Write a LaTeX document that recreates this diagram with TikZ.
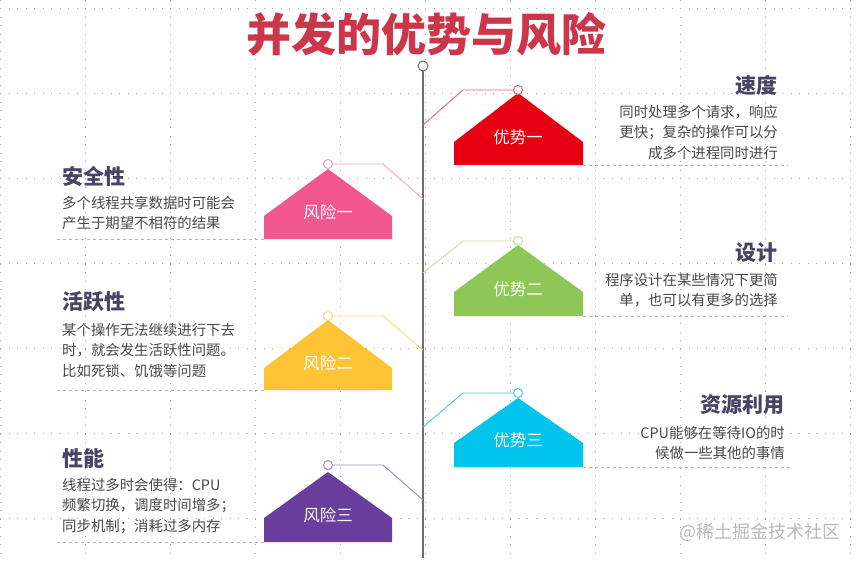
\documentclass[tikz,border=0pt]{standalone}
\usepackage{fontspec}
\setmainfont{Noto Sans CJK SC}
\usetikzlibrary{positioning}
\definecolor{titlered}{RGB}{204,54,75}
\definecolor{axisgray}{RGB}{110,110,110}
\definecolor{headgray}{RGB}{72,68,102}
\definecolor{bodygray}{RGB}{72,72,72}
\definecolor{advred}{RGB}{230,0,18}
\definecolor{advredline}{RGB}{232,100,122}
\definecolor{riskpink}{RGB}{242,86,142}
\definecolor{riskpinkline}{RGB}{245,160,190}
\definecolor{advgreen}{RGB}{143,198,88}
\definecolor{advgreenline}{RGB}{198,224,160}
\definecolor{riskyellow}{RGB}{255,196,54}
\definecolor{riskyellowline}{RGB}{255,217,122}
\definecolor{advcyan}{RGB}{0,196,236}
\definecolor{advcyanline}{RGB}{80,200,232}
\definecolor{riskpurple}{RGB}{106,62,156}
\definecolor{riskpurpleline}{RGB}{158,140,190}
\tikzset{
    gridline/.style={gray!70, line width=0.6pt, dash pattern=on 0.8pt off 7.7pt},
    axis/.style={draw=axisgray, line width=1.3pt},
    pin/.style={circle, draw, fill=white, line width=1pt, minimum size=9pt, inner sep=0pt},
    link/.style={line width=0.9pt},
    tag/.style={text=white, inner sep=0pt, font=\fontsize{16.5}{18}\selectfont},
    heading/.style={text=headgray, inner sep=0pt, font=\bfseries\fontsize{21}{24}\selectfont},
    body/.style={text=bodygray, inner sep=0pt, font=\fontsize{14.4}{20.5}\selectfont},
    guide/.style={draw=gray!60, dashed, line width=0.6pt},
    headline/.style={text=titlered, inner sep=0pt, font=\bfseries\fontsize{45}{50}\selectfont},
    watermark/.style={text=gray!55, inner sep=0pt, font=\fontsize{18}{20}\selectfont}
}
\begin{document}
\begin{tikzpicture}[x=1pt, y=-1pt]
        \useasboundingbox (0,0) rectangle (858,561);

        % Background grid
        \foreach \gx in {0,85,...,850} \draw[gridline] (\gx,0) -- (\gx,561);
        \foreach \gy in {8,93,...,518} \draw[gridline] (0,\gy) -- (858,\gy);

        % Title
        \node (title) [headline] at (426,34) {并发的优势与风险};

        % Time axis
        \node (axis_top) [pin, draw=axisgray, minimum size=10pt] at (423,66) {};
        \coordinate (axis_end) at (423,558);
        \draw[axis] (axis_top.south) -- (axis_end);

        % Advantage 1
        \fill[advred] (454,165) -- (454,142) -- (518,93) -- (583,142) -- (583,165) -- cycle;
        \node (tag_adv1) [tag] at (518,137) {优势一};
        \node (pin_adv1) [pin, draw=advredline] at (518,90) {};
        \coordinate (knee_adv1) at (463,90);
        \coordinate (join_adv1) at (423,125);
        \draw[link, advredline] (pin_adv1.west) -- (knee_adv1) -- (join_adv1);
        \node (head_adv1) [heading, anchor=east] at (778,85) {速度};
        \node (text_adv1) [body, align=right, anchor=north east] at (778,105) {同时处理多个请求，响应\\更快；复杂的操作可以分\\成多个进程同时进行};
        \draw[guide] (583,165) -- (788,165);

        % Risk 1
        \fill[riskpink] (264,239) -- (264,216) -- (328,169) -- (392,216) -- (392,239) -- cycle;
        \node (tag_risk1) [tag] at (328,212) {风险一};
        \node (pin_risk1) [pin, draw=riskpinkline] at (328,164) {};
        \coordinate (knee_risk1) at (383,164);
        \coordinate (join_risk1) at (423,199);
        \draw[link, riskpinkline] (pin_risk1.east) -- (knee_risk1) -- (join_risk1);
        \node (head_risk1) [heading, anchor=west] at (62,177) {安全性};
        \node (text_risk1) [body, align=left, anchor=north west] at (62,196) {多个线程共享数据时可能会\\产生于期望不相符的结果};
        \draw[guide] (57,239) -- (264,239);

        % Advantage 2
        \fill[advgreen] (454,316) -- (454,292) -- (518,245) -- (583,292) -- (583,316) -- cycle;
        \node (tag_adv2) [tag] at (518,289) {优势二};
        \node (pin_adv2) [pin, draw=advgreenline] at (518,241) {};
        \coordinate (knee_adv2) at (463,241);
        \coordinate (join_adv2) at (423,273);
        \draw[link, advgreenline] (pin_adv2.west) -- (knee_adv2) -- (join_adv2);
        \node (head_adv2) [heading, anchor=east] at (778,253) {设计};
        \node (text_adv2) [body, align=right, anchor=north east] at (778,273) {程序设计在某些情况下更简\\单，也可以有更多的选择};
        \draw[guide] (583,316) -- (788,316);

        % Risk 2
        \fill[riskyellow] (264,390) -- (264,368) -- (328,320) -- (392,368) -- (392,390) -- cycle;
        \node (tag_risk2) [tag] at (328,363) {风险二};
        \node (pin_risk2) [pin, draw=riskyellowline] at (328,316) {};
        \coordinate (knee_risk2) at (383,316);
        \coordinate (join_risk2) at (423,350);
        \draw[link, riskyellowline] (pin_risk2.east) -- (knee_risk2) -- (join_risk2);
        \node (head_risk2) [heading, anchor=west] at (62,302) {活跃性};
        \node (text_risk2) [body, align=left, anchor=north west] at (62,323) {某个操作无法继续进行下去\\时，就会发生活跃性问题。\\比如死锁、饥饿等问题};
        \draw[guide] (57,390) -- (264,390);

        % Advantage 3
        \fill[advcyan] (454,467) -- (454,443) -- (518,398) -- (583,443) -- (583,467) -- cycle;
        \node (tag_adv3) [tag] at (518,440) {优势三};
        \node (pin_adv3) [pin, draw=advcyanline] at (518,393) {};
        \coordinate (knee_adv3) at (463,393);
        \coordinate (join_adv3) at (423,427);
        \draw[link, advcyanline] (pin_adv3.west) -- (knee_adv3) -- (join_adv3);
        \node (head_adv3) [heading, anchor=east] at (785,405) {资源利用};
        \node (text_adv3) [body, align=right, anchor=north east] at (785,426) {CPU能够在等待IO的时\\候做一些其他的事情};
        \draw[guide] (583,467) -- (790,467);

        % Risk 3
        \fill[riskpurple] (264,542) -- (264,518) -- (328,472) -- (392,518) -- (392,542) -- cycle;
        \node (tag_risk3) [tag] at (328,515) {风险三};
        \node (pin_risk3) [pin, draw=riskpurpleline] at (328,465) {};
        \coordinate (knee_risk3) at (383,465);
        \coordinate (join_risk3) at (423,500);
        \draw[link, riskpurpleline] (pin_risk3.east) -- (knee_risk3) -- (join_risk3);
        \node (head_risk3) [heading, anchor=west] at (62,458) {性能};
        \node (text_risk3) [body, align=left, anchor=north west] at (62,478) {线程过多时会使得：CPU\\频繁切换，调度时间增多；\\同步机制；消耗过多内存};
        \draw[guide] (57,542) -- (264,542);

        % Watermark
        \node (credit) [watermark, anchor=west] at (679,532) {@稀土掘金技术社区};

    \end{tikzpicture}
\end{document}
